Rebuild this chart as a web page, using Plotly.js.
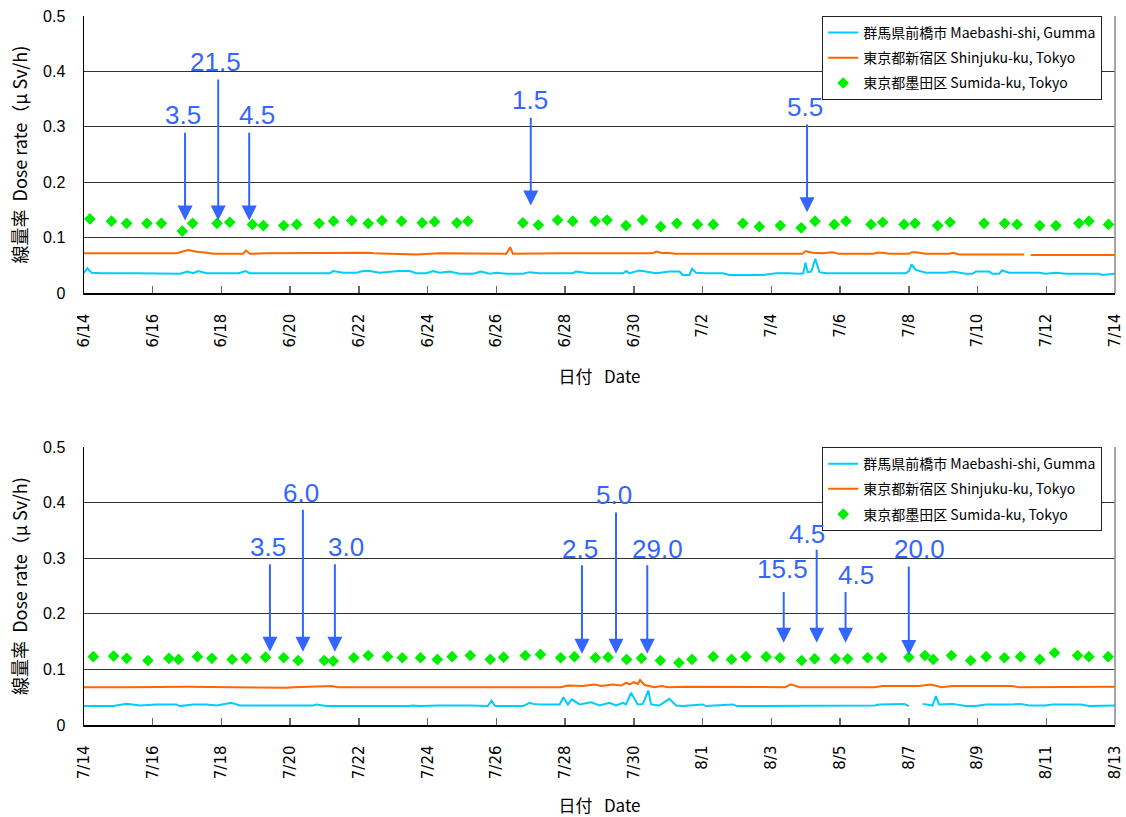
<!DOCTYPE html>
<html>
<head>
<meta charset="utf-8">
<script src="https://cdn.plot.ly/plotly-3.0.1.min.js"></script>
<style>html,body{margin:0;padding:0;background:#fff;}#chart{width:1126px;height:817px;}</style>
</head>
<body>
<div id="chart"></div>
<script>
// ---- tick labels (day offsets 0..30 step 2) ----
var tickDays = [0,2,4,6,8,10,12,14,16,18,20,22,24,26,28,30];
var topTickText = ['6/14','6/16','6/18','6/20','6/22','6/24','6/26','6/28','6/30','7/2','7/4','7/6','7/8','7/10','7/12','7/14'];
var botTickText = ['7/14','7/16','7/18','7/20','7/22','7/24','7/26','7/28','7/30','8/1','8/3','8/5','8/7','8/9','8/11','8/13'];

var seriesNames = ['群馬県前橋市 Maebashi-shi, Gumma','東京都新宿区 Shinjuku-ku, Tokyo','東京都墨田区 Sumida-ku, Tokyo'];

// ---- top chart (6/14 - 7/14), x = days since 6/14 ----
var topMaebashiDay = [0,0.10,0.22,0.5,1.5,2.6,2.8,3.0,3.18,3.32,3.57,4.5,4.70,4.83,7.15,7.25,7.54,7.93,8.12,8.32,8.60,8.99,9.19,9.48,9.67,9.96,10.16,10.35,10.64,10.93,11.32,11.56,11.80,12.0,12.29,12.77,12.96,13.26,14.22,14.32,14.71,15.68,15.78,15.87,16.16,16.65,17.03,17.33,17.42,17.62,17.69,17.81,18.10,18.59,18.78,19.75,20.14,20.52,20.81,20.93,20.99,21.06,21.16,21.28,21.40,21.59,23.91,24.0,24.08,24.20,24.50,25.08,25.27,25.66,25.85,25.95,26.34,26.43,26.63,26.71,26.92,27.79,27.99,28.28,28.57,29.53,29.63,30];
var topMaebashiVal = [0.037,0.045,0.037,0.036,0.036,0.036,0.035,0.039,0.036,0.040,0.036,0.036,0.040,0.036,0.036,0.040,0.037,0.037,0.040,0.040,0.037,0.039,0.040,0.040,0.036,0.036,0.040,0.037,0.039,0.035,0.035,0.039,0.035,0.037,0.035,0.035,0.038,0.036,0.036,0.039,0.036,0.036,0.040,0.036,0.041,0.036,0.039,0.039,0.033,0.033,0.044,0.037,0.036,0.036,0.033,0.033,0.036,0.036,0.035,0.036,0.055,0.038,0.039,0.062,0.038,0.036,0.036,0.040,0.052,0.042,0.037,0.037,0.039,0.035,0.035,0.039,0.039,0.035,0.035,0.041,0.037,0.037,0.035,0.037,0.035,0.035,0.033,0.035];

var topShinjukuDay = [0,2.69,3.03,3.28,3.57,3.76,4.63,4.71,4.83,5.3,8.3,8.43,9.67,10.35,12.29,12.40,12.48,13.93,16.55,16.65,16.84,16.94,17.23,20.91,20.99,21.2,21.49,21.78,21.97,22.97,23.07,23.25,23.43,24.0,24.1,24.2,24.49,25.18,25.27,25.47,27.36,27.45,27.55,30];
var topShinjukuVal = [0.072,0.072,0.078,0.075,0.073,0.071,0.071,0.077,0.071,0.072,0.073,0.072,0.070,0.072,0.071,0.083,0.071,0.072,0.072,0.075,0.072,0.073,0.071,0.071,0.076,0.073,0.072,0.074,0.071,0.071,0.073,0.073,0.071,0.071,0.074,0.074,0.071,0.071,0.073,0.070,0.070,null,0.069,0.069];

var topSumidaDay = [0.17,0.80,1.24,1.83,2.25,2.86,3.16,3.87,4.24,4.90,5.22,5.81,6.19,6.84,7.26,7.79,8.27,8.67,9.24,9.84,10.20,10.85,11.17,12.77,13.22,13.78,14.22,14.87,15.22,15.77,16.25,16.78,17.25,17.85,18.31,19.17,19.65,20.26,20.87,21.27,21.83,22.17,22.90,23.24,23.86,24.18,24.84,25.20,26.19,26.79,27.15,27.81,28.28,28.95,29.24,29.81];
var topSumidaVal = [0.134,0.130,0.126,0.126,0.126,0.112,0.126,0.126,0.128,0.124,0.122,0.122,0.124,0.126,0.130,0.131,0.126,0.131,0.130,0.127,0.129,0.127,0.130,0.127,0.123,0.132,0.130,0.130,0.132,0.122,0.132,0.120,0.126,0.124,0.124,0.126,0.120,0.122,0.118,0.130,0.124,0.130,0.124,0.128,0.124,0.126,0.122,0.128,0.126,0.126,0.124,0.122,0.122,0.126,0.130,0.124];

// ---- bottom chart (7/14 - 8/13), x = days since 7/14 ----
var botMaebashiDay = [0,0.47,0.66,0.85,1.24,1.63,2.11,2.69,2.79,3.18,3.57,3.86,4.29,4.53,4.92,6.67,6.76,7.05,9.48,9.57,9.77,10.35,11.22,11.51,11.75,11.86,11.95,12.0,12.38,12.68,12.77,12.97,13.07,13.26,13.84,13.95,14.08,14.20,14.42,14.76,15.0,15.29,15.48,15.68,15.77,15.92,16.11,16.26,16.42,16.50,16.74,17.03,17.23,17.42,18.0,18.1,18.88,19.0,22.17,22.26,23.0,23.14,23.72,23.87,24.0,24.15,24.40,24.69,24.79,24.88,25.27,25.66,25.95,26.24,27.0,27.25,27.5,27.98,28.18,29.0,29.25,29.92,30];
var botMaebashiVal = [0.034,0.034,0.035,0.034,0.038,0.035,0.037,0.037,0.034,0.037,0.037,0.035,0.040,0.035,0.035,0.035,0.037,0.034,0.034,0.035,0.034,0.035,0.035,0.034,0.034,0.044,0.035,0.034,0.034,0.035,0.034,0.040,0.038,0.037,0.037,0.050,0.037,0.046,0.037,0.041,0.035,0.040,0.035,0.040,0.037,0.058,0.037,0.038,0.062,0.037,0.035,0.047,0.035,0.034,0.037,0.034,0.037,0.034,0.034,0.035,0.035,0.037,0.037,0.038,0.034,null,0.038,0.035,0.052,0.037,0.038,0.034,0.034,0.037,0.037,0.038,0.035,0.035,0.037,0.037,0.034,0.034,0.035];

var botShinjukuDay = [0,1.2,1.25,1.3,3.0,4.0,5.0,5.9,6.1,7.2,7.4,7.8,8.2,8.8,9.2,13.88,14.08,14.26,14.5,14.85,15.05,15.38,15.63,15.78,15.87,16.0,16.12,16.18,16.31,16.6,16.8,17.0,17.5,20.4,20.57,20.82,23.0,23.23,24.3,24.64,24.78,24.96,25.27,27.0,27.2,30];
var botShinjukuVal = [0.068,0.068,0.067,0.068,0.069,0.068,0.068,0.067,0.068,0.070,0.068,0.068,0.067,0.068,0.068,0.068,0.071,0.070,0.070,0.073,0.070,0.073,0.071,0.076,0.073,0.077,0.074,0.081,0.072,0.068,0.070,0.068,0.069,0.068,0.073,0.068,0.068,0.070,0.070,0.073,0.071,0.068,0.070,0.070,0.068,0.069];

var botSumidaDay = [0.27,0.86,1.24,1.86,2.47,2.75,3.30,3.72,4.31,4.72,5.28,5.81,6.23,6.99,7.25,7.85,8.27,8.83,9.26,9.79,10.28,10.71,11.24,11.82,12.21,12.84,13.28,13.87,14.27,14.88,15.25,15.79,16.22,16.77,17.31,17.69,18.31,18.84,19.26,19.85,20.25,20.88,21.26,21.86,22.22,22.80,23.21,24.00,24.47,24.71,25.24,25.80,26.25,26.78,27.25,27.81,28.24,28.91,29.24,29.80];
var botSumidaVal = [0.123,0.124,0.120,0.116,0.120,0.118,0.123,0.120,0.118,0.120,0.122,0.121,0.116,0.116,0.115,0.121,0.125,0.123,0.121,0.121,0.118,0.123,0.125,0.118,0.122,0.125,0.127,0.121,0.123,0.121,0.122,0.118,0.120,0.116,0.112,0.118,0.123,0.118,0.123,0.123,0.121,0.116,0.119,0.119,0.119,0.121,0.121,0.122,0.125,0.118,0.125,0.116,0.123,0.121,0.123,0.118,0.130,0.125,0.123,0.123];

// ---- arrow callouts: label text, arrow day, tip value, tail value, label day, label value ----
var topCallText = ['3.5','21.5','4.5','1.5','5.5'];
var topCallDay  = [2.94,3.905,4.807,13.0,21.04];
var topCallTip  = [0.131,0.131,0.131,0.158,0.146];
var topCallTail = [0.292,0.388,0.292,0.319,0.307];
var topLabDay   = [2.89,3.84,5.02,12.97,20.98];
var topLabVal   = [0.321,0.417,0.321,0.348,0.335];

var botCallText = ['3.5','6.0','3.0','2.5','5.0','29.0','15.5','4.5','4.5','20.0'];
var botCallDay  = [5.41,6.37,7.30,14.49,15.48,16.39,20.36,21.32,22.16,24.0];
var botCallTip  = [0.132,0.132,0.132,0.128,0.128,0.128,0.148,0.148,0.148,0.126];
var botCallTail = [0.292,0.390,0.292,0.290,0.385,0.290,0.242,0.318,0.242,0.288];
var botLabDay   = [5.36,6.31,7.61,14.42,15.42,16.70,20.33,21.04,22.45,24.31];
var botLabVal   = [0.321,0.418,0.321,0.317,0.414,0.317,0.281,0.344,0.270,0.317];

var cCyan = '#00ccff', cOrange = '#ff6600', cGreen = '#00ee00', cBlue = '#3366ff';
var cjk = '"Noto Sans CJK JP", "Noto Sans", sans-serif';

function lineTrace(x, y, name, color, xa, ya, leg, grp) {
  return {x: x, y: y, name: name, type: 'scatter', mode: 'lines', xaxis: xa, yaxis: ya,
    line: {color: color, width: 2}, connectgaps: false, legend: leg, legendgroup: grp, hoverinfo: 'skip'};
}
function dotTrace(x, y, name, xa, ya, leg, grp) {
  return {x: x, y: y, name: name, type: 'scatter', mode: 'markers', xaxis: xa, yaxis: ya,
    marker: {symbol: 'diamond', size: 9, color: cGreen}, legend: leg, legendgroup: grp, hoverinfo: 'skip'};
}

var data = [
  lineTrace(topMaebashiDay, topMaebashiVal, seriesNames[0], cCyan, 'x', 'y', 'legend', 'a'),
  lineTrace(topShinjukuDay, topShinjukuVal, seriesNames[1], cOrange, 'x', 'y', 'legend', 'b'),
  dotTrace(topSumidaDay, topSumidaVal, seriesNames[2], 'x', 'y', 'legend', 'c'),
  lineTrace(botMaebashiDay, botMaebashiVal, seriesNames[0], cCyan, 'x2', 'y2', 'legend2', 'd'),
  lineTrace(botShinjukuDay, botShinjukuVal, seriesNames[1], cOrange, 'x2', 'y2', 'legend2', 'e'),
  dotTrace(botSumidaDay, botSumidaVal, seriesNames[2], 'x2', 'y2', 'legend2', 'f')
];

var annotations = [];
function addCallouts(texts, days, tips, tails, labD, labV, xr, yr) {
  for (var i = 0; i < texts.length; i++) {
    annotations.push({x: days[i], y: tips[i], ax: days[i], ay: tails[i], xref: xr, yref: yr, axref: xr, ayref: yr,
      text: '', showarrow: true, arrowhead: 2, arrowsize: 1.5, arrowwidth: 2, arrowcolor: cBlue, standoff: 0});
    annotations.push({x: labD[i], y: labV[i], xref: xr, yref: yr, text: texts[i], showarrow: false,
      font: {family: 'Liberation Sans, Arial, sans-serif', size: 26, color: cBlue}, xanchor: 'center', yanchor: 'middle'});
  }
}
addCallouts(topCallText, topCallDay, topCallTip, topCallTail, topLabDay, topLabVal, 'x', 'y');
addCallouts(botCallText, botCallDay, botCallTip, botCallTail, botLabDay, botLabVal, 'x2', 'y2');

function xAxis(ticktext, anchor) {
  return {range: [0, 30], anchor: anchor, tickmode: 'array', tickvals: tickDays, ticktext: ticktext,
    tickangle: -90, ticks: 'inside', ticklen: 7, tickcolor: '#666', tickwidth: 1.5,
    tickfont: {family: 'DejaVu Sans, sans-serif', size: 15, color: '#000'}, ticklabelstandoff: 13,
    showline: true, linecolor: '#000', linewidth: 1.5, showgrid: false, zeroline: false,
    title: {text: '日付&nbsp;&nbsp;&nbsp;Date', font: {family: cjk, size: 17, color: '#000'}, standoff: 24}, automargin: false};
}
function yAxis(domain, anchor) {
  return {domain: domain, range: [0, 0.5], anchor: anchor, dtick: 0.1, tick0: 0,
    ticks: 'outside', ticklen: 14, tickcolor: 'rgba(0,0,0,0)',
    tickfont: {family: 'Liberation Sans, Arial, sans-serif', size: 16, color: '#000'},
    showline: true, linecolor: '#000', linewidth: 1.5, showgrid: true, gridcolor: '#333', gridwidth: 1, zeroline: false,
    title: {text: '線量率&nbsp;&nbsp;Dose rate（μ Sv/h)', font: {family: cjk, size: 18, color: '#000'}, standoff: 10}, automargin: false};
}

var legendBase = {xref: 'paper', yref: 'paper', x: 0.716, xanchor: 'left', yanchor: 'top',
  bgcolor: '#fff', bordercolor: '#222', borderwidth: 1, font: {family: cjk, size: 14, color: '#000'},
  tracegroupgap: 4, traceorder: 'grouped'};
var legend1 = Object.assign({}, legendBase, {y: 1});
var legend2 = Object.assign({}, legendBase, {y: 0.392});

var layout = {
  width: 1126, height: 817,
  margin: {l: 84, r: 11, t: 16, b: 92},
  paper_bgcolor: '#fff', plot_bgcolor: '#fff',
  font: {family: 'Liberation Sans, Arial, sans-serif', color: '#000'},
  showlegend: true,
  xaxis: xAxis(topTickText, 'y'),
  yaxis: yAxis([0.609, 1], 'x'),
  xaxis2: xAxis(botTickText, 'y2'),
  yaxis2: yAxis([0, 0.392], 'x2'),
  legend: legend1,
  legend2: legend2,
  annotations: annotations,
  shapes: [
    {type: 'line', xref: 'paper', yref: 'y domain', x0: 1, x1: 1, y0: 0, y1: 1, line: {color: '#888', width: 1.5}},
    {type: 'line', xref: 'paper', yref: 'y2 domain', x0: 1, x1: 1, y0: 0, y1: 1, line: {color: '#888', width: 1.5}}
  ]
};

Plotly.newPlot('chart', data, layout, {displayModeBar: false, staticPlot: true});
</script>
</body>
</html>
